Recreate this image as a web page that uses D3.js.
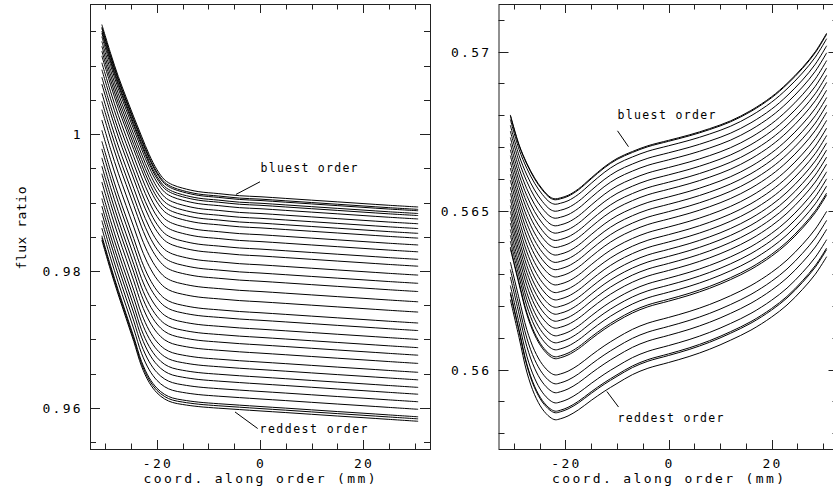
<!DOCTYPE html>
<html lang="en">
<head>
    <meta charset="UTF-8">
    <title>Flux ratio along order</title>
    <style>
        body { margin: 0; padding: 0; background: #fff; }
        svg { display: block; }
        text { font-family: "DejaVu Sans Mono", monospace; fill: #000; }
        .tick-label { font-size: 13px; letter-spacing: 2.3px; }
        .axis-title { font-size: 13px; }
        .note { font-size: 11.5px; }
    </style>
</head>
<body>
<svg width="833" height="488"></svg>
<script src="https://d3js.org/d3.v7.min.js"></script>
<script>
    const svg = d3.select("svg");

    // ---- data ----
    // left panel: bluest / reddest order profiles sampled along the order (mm)
    const xsLeft = [-30.7, -29, -27.5, -26, -24.5, -23, -21.5, -20, -18.5, -17, -15, -12, -8, -4, 0, 5, 10, 15, 20, 25, 30.7];
    const bluestLeft = [1.0160, 1.0118, 1.0084, 1.0054, 1.0025, 0.9997, 0.9970, 0.9948, 0.9933, 0.9926, 0.9921, 0.9916, 0.9913, 0.9910, 0.99085, 0.9906, 0.99035, 0.9901, 0.98985, 0.9896, 0.98935];
    const reddestLeft = [0.9845, 0.9801, 0.9765, 0.9731, 0.9697, 0.9661, 0.9637, 0.9622, 0.9613, 0.9608, 0.9605, 0.9602, 0.95996, 0.95976, 0.95956, 0.95932, 0.95907, 0.95882, 0.95858, 0.95833, 0.95805];
    // flux ratio of every order at the right end of the order (x = 30.7)
    const ordersLeft = [0.98935, 0.9890, 0.9888, 0.9884, 0.9881, 0.9876, 0.9869, 0.9862, 0.9855, 0.9848, 0.9838, 0.9828,
        0.9817, 0.9807, 0.9794, 0.9782, 0.9770, 0.9755, 0.9740, 0.9724, 0.9713, 0.9700, 0.9688, 0.9677, 0.9665,
        0.9652, 0.9641, 0.9630, 0.9620, 0.9609, 0.9598, 0.9587, 0.9584, 0.95805];

    // right panel
    const xsRight = [-30.7, -29, -27.5, -26, -24.5, -23, -22, -21, -19.5, -17.5, -15, -12.5, -10, -7, -4, 0, 4, 8, 12, 16, 20, 23, 26, 28.5, 30.7];
    const bluestRight = [0.56801, 0.56707, 0.56649, 0.56603, 0.56568, 0.56543, 0.56537, 0.56540, 0.56548, 0.56568, 0.56603, 0.56637, 0.56664, 0.56686, 0.56704, 0.56721, 0.56738, 0.56758, 0.56782, 0.56815, 0.56858, 0.56900, 0.56950, 0.57000, 0.57058];
    const reddestRight = [0.56220, 0.56100, 0.55992, 0.55921, 0.55876, 0.55850, 0.55842, 0.55845, 0.55854, 0.55873, 0.55903, 0.55931, 0.55956, 0.55984, 0.56004, 0.56022, 0.56041, 0.56064, 0.56092, 0.56124, 0.56165, 0.56203, 0.56252, 0.56300, 0.56355];
    // flux ratio of every order at the dip (x = -22)
    const ordersRight = [0.56537, 0.56534, 0.56520, 0.56498, 0.56476, 0.56452, 0.56429, 0.56406, 0.56384, 0.56360,
        0.56337, 0.56314, 0.56291, 0.56266, 0.56242, 0.56219, 0.56196, 0.56174, 0.56152, 0.56130, 0.56106,
        0.56084, 0.56062, 0.56040, 0.56034, 0.55983, 0.55955, 0.55927, 0.55895, 0.55869, 0.55864, 0.55842];

    const xTicksMajor = [-20, 0, 20];
    const leftTicksMajor = [0.96, 0.98, 1];
    const rightTicksMajor = [0.56, 0.565, 0.57];

    // ---- layout ----
    const yTop = 4, yBottom = 449;

    function drawPanel(cfg) {
        const g = svg.append("g");
        const x = d3.scaleLinear().domain([-33, 33]).range([cfg.x0, cfg.x0 + 340]);
        const y = d3.scaleLinear().domain(cfg.yDomain).range([yBottom, yTop]);

        // every order follows the bluest/reddest shape, placed by its reference value
        const refB = cfg.bluest[cfg.refIndex], refR = cfg.reddest[cfg.refIndex];
        const series = cfg.orders.map(v => {
            const t = (refB - v) / (refB - refR);
            return cfg.xs.map((xv, i) => [xv, cfg.bluest[i] + t * (cfg.reddest[i] - cfg.bluest[i])]);
        });

        const line = d3.line()
            .x(d => x(d[0]))
            .y(d => y(d[1]))
            .curve(d3.curveCatmullRom.alpha(0.5));

        g.selectAll("path.order")
            .data(series)
            .enter()
            .append("path")
            .attr("class", "order")
            .attr("d", line)
            .attr("fill", "none")
            .attr("stroke", "#000")
            .attr("stroke-width", 1);

        // frame
        g.append("rect")
            .attr("x", x(-33) + 0.5)
            .attr("y", yTop + 0.5)
            .attr("width", x(33) - x(-33))
            .attr("height", yBottom - yTop)
            .attr("fill", "none")
            .attr("stroke", "#222")
            .attr("stroke-width", 1);

        // x ticks (bottom and top, inward)
        const xMinor = d3.range(-30, 31, 5);
        xMinor.forEach(v => {
            const len = xTicksMajor.includes(v) ? 9 : 5.5;
            const px = Math.round(x(v)) + 0.5;
            g.append("line").attr("x1", px).attr("x2", px)
                .attr("y1", yBottom).attr("y2", yBottom - len)
                .attr("stroke", "#222");
            g.append("line").attr("x1", px).attr("x2", px)
                .attr("y1", yTop).attr("y2", yTop + len)
                .attr("stroke", "#222");
        });

        // y ticks (left and right, inward)
        cfg.yMinor.forEach(v => {
            const major = cfg.yMajor.some(m => Math.abs(m - v) < 1e-9);
            const len = major ? 10 : 6;
            const py = Math.round(y(v)) + 0.5;
            g.append("line").attr("x1", x(-33)).attr("x2", x(-33) + len)
                .attr("y1", py).attr("y2", py).attr("stroke", "#222");
            g.append("line").attr("x1", x(33)).attr("x2", x(33) - len)
                .attr("y1", py).attr("y2", py).attr("stroke", "#222");
        });

        // tick labels
        g.selectAll("text.xl")
            .data(xTicksMajor)
            .enter()
            .append("text")
            .attr("class", "tick-label")
            .attr("x", d => x(d) + 1)
            .attr("y", 468)
            .attr("text-anchor", "middle")
            .text(d => d);

        g.selectAll("text.yl")
            .data(cfg.yMajor)
            .enter()
            .append("text")
            .attr("class", "tick-label")
            .attr("x", x(-33) - 7)
            .attr("y", d => y(d) + 5)
            .attr("text-anchor", "end")
            .text(d => cfg.fmt(d));

        // axis title
        g.append("text")
            .attr("class", "axis-title")
            .attr("x", x(0) - 0.5)
            .attr("y", 483)
            .attr("text-anchor", "middle")
            .attr("textLength", 232)
            .attr("lengthAdjust", "spacing")
            .text("coord. along order (mm)");

        // annotations with pointer lines
        cfg.notes.forEach(n => {
            g.append("line")
                .attr("x1", x(n.p[0][0])).attr("y1", y(n.p[0][1]))
                .attr("x2", x(n.p[1][0])).attr("y2", y(n.p[1][1]))
                .attr("stroke", "#000");
            g.append("text")
                .attr("class", "note")
                .attr("x", x(n.at[0]))
                .attr("y", y(n.at[1]))
                .attr("textLength", n.w)
                .attr("lengthAdjust", "spacing")
                .text(n.text);
        });
    }

    drawPanel({
        x0: 90,
        yDomain: [0.954, 1.019],
        xs: xsLeft, bluest: bluestLeft, reddest: reddestLeft,
        orders: ordersLeft, refIndex: xsLeft.length - 1,
        yMajor: leftTicksMajor,
        yMinor: d3.range(0, 13).map(i => +(0.955 + i * 0.005).toFixed(3)),
        fmt: d => d === 1 ? "1" : d3.format(".2f")(d),
        notes: [
            { text: "bluest order", at: [0.1, 0.99445], w: 97, p: [[0, 0.99303], [-4.66, 0.99119]] },
            { text: "reddest order", at: [-0.1, 0.95634], w: 108, p: [[-4.85, 0.95941], [-0.45, 0.95699]] }
        ]
    });

    drawPanel({
        x0: 498.5,
        yDomain: [0.5575, 0.5715],
        xs: xsRight, bluest: bluestRight, reddest: reddestRight,
        orders: ordersRight, refIndex: 6,
        yMajor: rightTicksMajor,
        yMinor: d3.range(0, 14).map(i => +(0.558 + i * 0.001).toFixed(3)),
        fmt: d => String(d),
        notes: [
            { text: "bluest order", at: [-9.9, 0.56787], w: 98, p: [[-9.9, 0.56751], [-7.77, 0.56701]] },
            { text: "reddest order", at: [-9.9, 0.55836], w: 106, p: [[-11.96, 0.55931], [-9.7, 0.55882]] }
        ]
    });

    // y axis title of the left panel
    svg.append("text")
        .attr("class", "axis-title")
        .attr("transform", "translate(26,228) rotate(-90)")
        .attr("text-anchor", "middle")
        .attr("textLength", 83)
        .attr("lengthAdjust", "spacing")
        .text("flux ratio");
</script>
</body>
</html>
